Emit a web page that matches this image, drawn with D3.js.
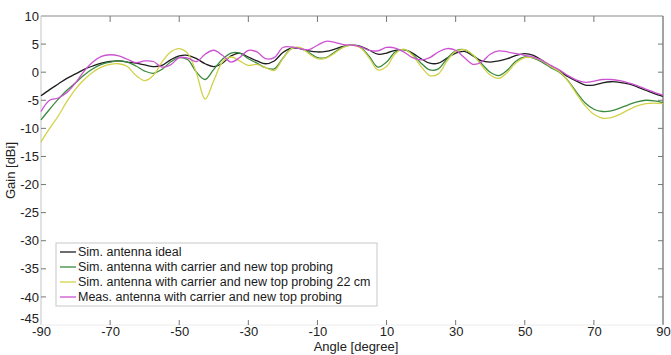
<!DOCTYPE html>
<html>
<head>
<meta charset="utf-8">
<script src="https://cdn.jsdelivr.net/npm/d3@7/dist/d3.min.js"></script>
<style>
  html, body { margin: 0; padding: 0; background: #fff; }
  svg { display: block; font-family: "Liberation Sans", Arial, Helvetica, sans-serif; }
</style>
</head>
<body>
<svg id="chart" width="671" height="355"></svg>
<script>
// Radiation pattern: gain versus angle, sampled every 2.5 degrees
const angles = d3.range(-90, 90.01, 2.5);

const gainIdeal = [
  -4.2, -3.1, -2.1, -1.1, -0.3, 0.5, 1.1, 1.6, 1.9, 2.0, 1.8, 1.6, 1.3, 1.0, 1.2, 2.2,
  2.9, 3.0, 2.4, 1.5, 1.0, 1.6, 2.9, 3.4, 2.7, 2.0, 1.5, 2.0, 3.5, 4.3, 4.2, 3.8,
  3.6, 3.7, 4.1, 4.6, 4.8, 4.6, 3.9, 3.2, 3.4, 3.9, 4.0, 3.4, 2.4, 1.6, 1.6, 2.5,
  3.4, 3.7, 2.9, 2.0, 1.8, 2.0, 2.4, 3.0, 3.3, 3.0, 2.1, 1.0, 0.2, -0.8, -1.6, -2.3,
  -2.3, -1.9, -1.7, -1.8, -2.1, -2.6, -3.2, -3.8, -4.3
];

const gainCarrier = [
  -8.5, -6.6, -4.8, -3.2, -1.9, -0.5, 0.6, 1.4, 1.8, 2.0, 1.8, 1.1, 0.2, -0.2, 0.5, 1.8,
  2.6, 2.2, 0.0, -1.3, 0.5, 2.3, 3.4, 3.4, 2.4, 1.6, 0.8, 0.6, 2.5, 4.2, 4.3, 3.5,
  2.6, 2.6, 3.6, 4.5, 4.8, 4.4, 2.8, 0.9, 1.8, 3.6, 4.0, 3.2, 1.6, 0.4, 0.6, 2.4,
  3.8, 4.0, 3.0, 1.5, 0.0, -0.6, 0.4, 2.0, 2.7, 2.5, 1.8, 0.8, 0.0, -1.5, -3.6, -5.5,
  -6.6, -7.0, -6.9, -6.4, -5.8, -5.3, -5.0, -5.1, -5.4
];

const gainCarrier22 = [
  -12.4, -10.0, -7.8, -5.2, -3.0, -1.3, 0.0, 0.9, 1.4, 1.5, 1.0, -0.6, -1.5, -0.6, 1.8, 3.6,
  4.2, 3.3, -0.2, -4.8, -1.5, 1.8, 2.7, 2.0, 1.2, 1.4, 0.8, 0.3, 2.4, 4.2, 4.4, 3.3,
  2.4, 2.5, 3.4, 4.4, 4.8, 4.3, 2.5, 0.4, 1.0, 3.3, 4.1, 3.0, 1.0, -0.6, -0.3, 2.0,
  3.7, 4.0, 3.1, 1.2, -0.5, -1.1, 0.0, 1.7, 2.6, 2.6, 2.0, 1.0, 0.1, -1.6, -3.9, -6.0,
  -7.5, -8.2, -8.1, -7.5, -6.7, -6.0, -5.6, -5.5, -5.6
];

const gainMeasured = [
  -7.0, -5.0, -4.6, -3.6, -1.9, 0.2, 1.8, 2.8, 3.1, 2.9, 2.3, 1.7, 2.0, 1.9, 0.9, 1.3,
  2.6, 2.5, 1.9, 3.2, 3.9, 3.0, 1.8, 2.6, 3.9, 3.6, 2.4, 2.6, 4.4, 4.5, 4.2, 4.0,
  4.8, 5.5, 5.3, 4.9, 4.8, 4.5, 3.9, 3.8, 4.4, 4.3, 3.6, 2.6, 2.2, 2.6, 3.6, 4.2,
  3.9, 2.6, 1.4, 1.8, 3.2, 3.8, 3.6, 3.3, 3.0, 2.7, 2.1, 1.2, 0.4, -0.6, -1.4, -1.8,
  -1.6, -1.3, -1.3, -1.5, -1.9, -2.4, -3.0, -3.6, -4.1
];

const seriesNames = [
  "Sim. antenna ideal",
  "Sim. antenna with carrier and new top probing",
  "Sim. antenna with carrier and new top probing 22 cm",
  "Meas. antenna with carrier and new top probing"
];
const seriesValues = [gainIdeal, gainCarrier, gainCarrier22, gainMeasured];
const seriesColors = ["#1e1e1e", "#3a8a3e", "#d2d24a", "#cc52d2"];

const xTicks = [-90, -70, -50, -30, -10, 10, 30, 50, 70, 90];
const yTicks = [10, 5, 0, -5, -10, -15, -20, -25, -30, -35, -40, -45];

(function draw() {
  const svg = d3.select("#chart");
  const pL = 41, pR = 663, pT = 16, pB = 325;
  const font = "'Liberation Sans', Arial, sans-serif";
  const plain = d => String(d);   // ASCII hyphen-minus for negative labels

  const x = d3.scaleLinear().domain([-90, 90]).range([pL, pR]);
  const y = d3.scaleLinear().domain([-45, 10]).range([pB, pT]);

  // Box edges
  svg.append("line").attr("x1", pL).attr("x2", pR).attr("y1", pT).attr("y2", pT)
    .attr("stroke", "#8a8a8a").attr("stroke-width", 1.2);
  svg.append("line").attr("x1", pR).attr("x2", pR).attr("y1", pT).attr("y2", pB)
    .attr("stroke", "#666").attr("stroke-width", 1.2);
  svg.append("line").attr("x1", pL).attr("x2", pL).attr("y1", pT).attr("y2", pB)
    .attr("stroke", "#c4c4c4").attr("stroke-width", 1);
  svg.append("line").attr("x1", pL).attr("x2", pR).attr("y1", pB).attr("y2", pB)
    .attr("stroke", "#ececec").attr("stroke-width", 1);

  // Axes (labels only; inward ticks drawn separately)
  const gx = svg.append("g").attr("transform", `translate(0,${pB})`)
    .call(d3.axisBottom(x).tickValues(xTicks).tickFormat(plain).tickSize(0).tickPadding(2));
  gx.select(".domain").remove();
  gx.attr("font-family", font);
  gx.selectAll("text").attr("font-size", 13).attr("fill", "#222");

  const gy = svg.append("g").attr("transform", `translate(${pL},0)`)
    .call(d3.axisLeft(y).tickValues(yTicks).tickFormat(plain).tickSize(0).tickPadding(2));
  gy.select(".domain").remove();
  gy.attr("font-family", font);
  gy.selectAll("text").attr("font-size", 13).attr("fill", "#222")
    .attr("dy", d => d === -45 ? "-0.2em" : "0.32em");

  const tickG = svg.append("g").attr("stroke", "#777").attr("stroke-width", 1);
  xTicks.filter(d => d > -90 && d < 90).forEach(d => {
    tickG.append("line").attr("x1", x(d)).attr("x2", x(d)).attr("y1", pT).attr("y2", pT + 6);
    tickG.append("line").attr("x1", x(d)).attr("x2", x(d)).attr("y1", pB - 5).attr("y2", pB);
  });
  yTicks.filter(d => d > -45 && d < 10).forEach(d => {
    tickG.append("line").attr("x1", pL).attr("x2", pL + 5).attr("y1", y(d)).attr("y2", y(d));
    tickG.append("line").attr("x1", pR - 5).attr("x2", pR).attr("y1", y(d)).attr("y2", y(d));
  });

  // Axis titles
  svg.append("text").attr("x", (pL + pR) / 2 + 4).attr("y", 351)
    .attr("text-anchor", "middle").attr("font-size", 13).attr("fill", "#222")
    .attr("font-family", font).text("Angle [degree]");
  svg.append("text").attr("transform", `translate(15,${(pT + pB) / 2}) rotate(-90)`)
    .attr("text-anchor", "middle").attr("font-size", 13).attr("fill", "#222")
    .attr("font-family", font).text("Gain [dBi]");

  // Curves
  const line = d3.line()
    .x((d, i) => x(angles[i]))
    .y(d => y(d))
    .curve(d3.curveCatmullRom.alpha(0.5));

  const plot = svg.append("g");
  seriesValues.forEach((vals, k) => {
    plot.append("path").datum(vals)
      .attr("fill", "none")
      .attr("stroke", seriesColors[k])
      .attr("stroke-width", 1.3)
      .attr("stroke-linejoin", "round")
      .attr("d", line);
  });

  // Legend
  const legX = 56, legY = 243, legW = 321, legH = 63;
  const leg = svg.append("g").attr("font-family", font);
  leg.append("rect").attr("x", legX).attr("y", legY).attr("width", legW).attr("height", legH)
    .attr("fill", "#fff").attr("stroke", "#c8c8c8").attr("stroke-width", 1);
  seriesNames.forEach((name, k) => {
    const cy = legY + 9 + k * 15;
    leg.append("line").attr("x1", legX + 4).attr("x2", legX + 20).attr("y1", cy).attr("y2", cy)
      .attr("stroke", seriesColors[k]).attr("stroke-width", 1.3);
    leg.append("text").attr("x", legX + 22).attr("y", cy).attr("dy", "0.35em")
      .attr("font-size", 12.5).attr("fill", "#1a1a1a").text(name);
  });
})();
</script>
</body>
</html>
